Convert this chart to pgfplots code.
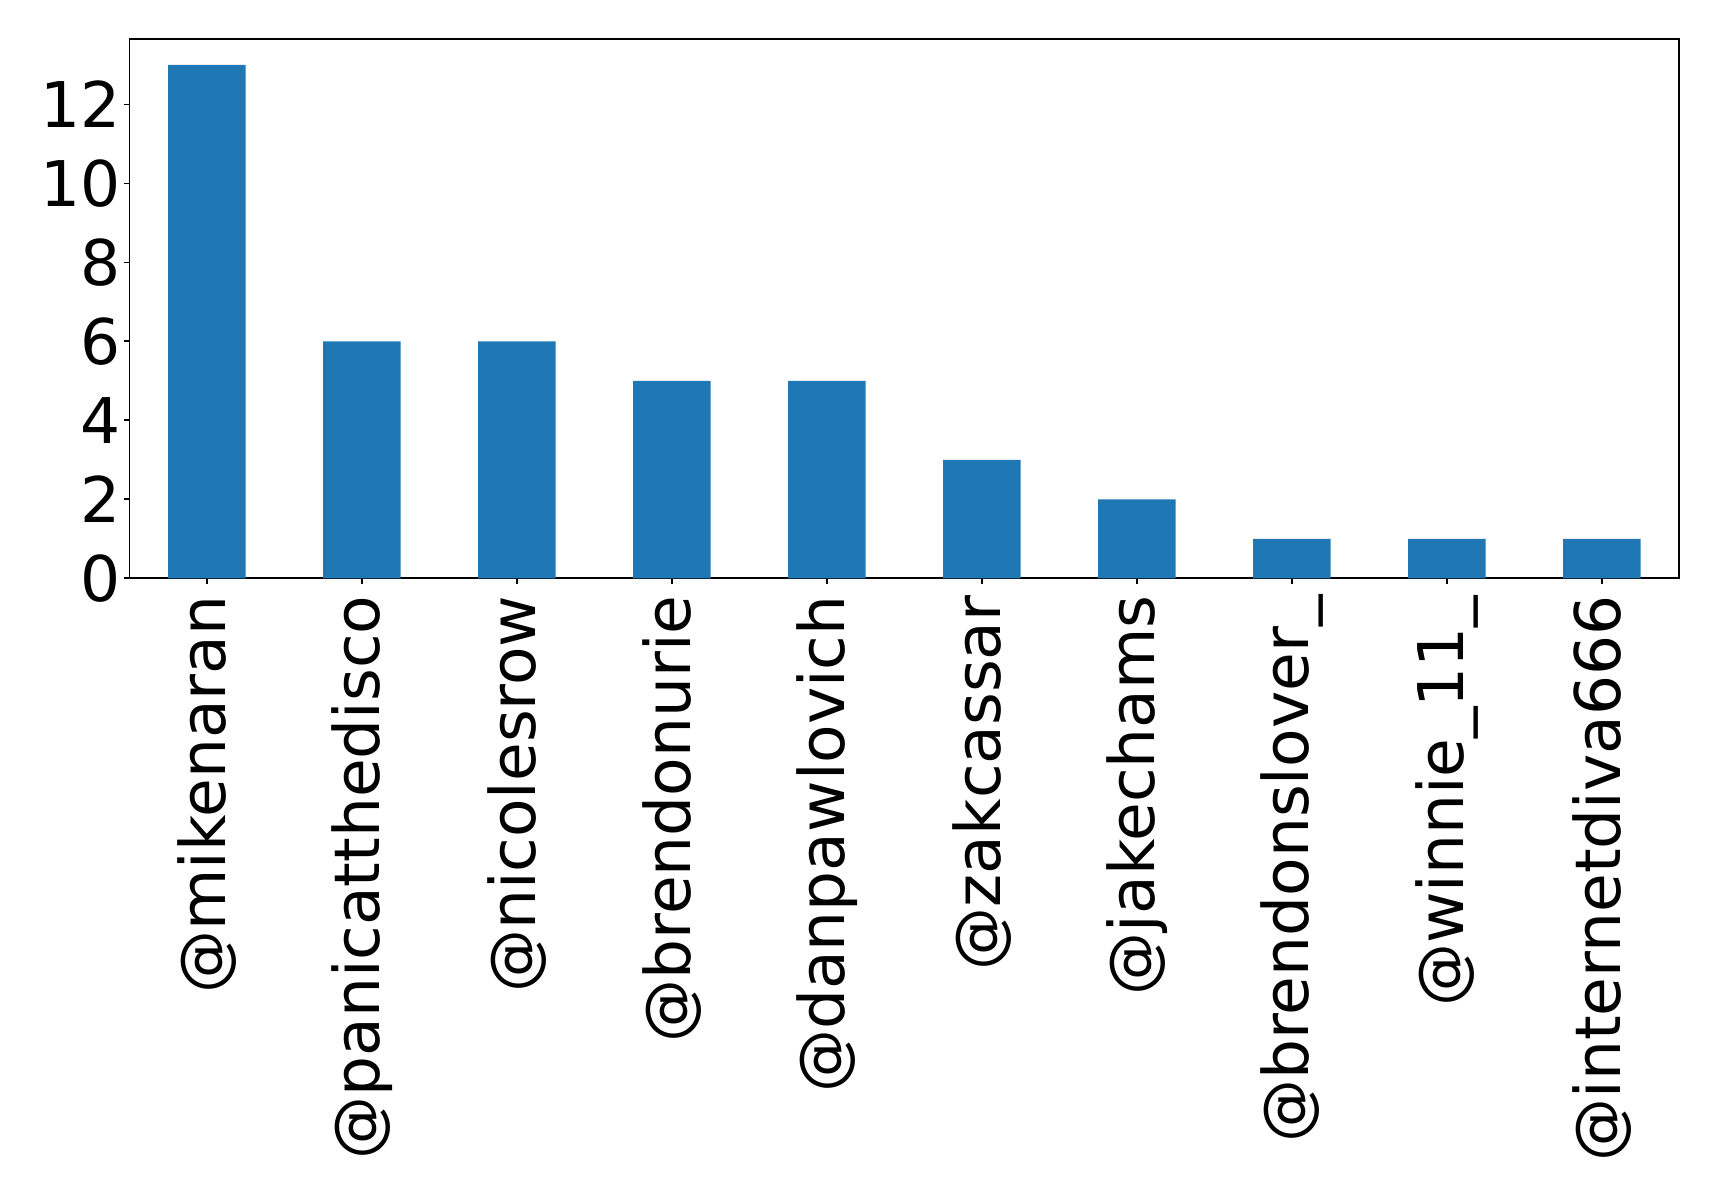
\documentclass[border=0pt]{standalone}
\usepackage{fontspec}
\setmainfont{DejaVu Sans}
\usepackage{pgfplots}
\pgfplotsset{compat=1.18}
\definecolor{mplblue}{HTML}{1F77B4}
\begin{document}
\begin{tikzpicture}
\begin{axis}[
  scale only axis,
  width=774.9pt, height=269.5pt,
  xmin=-0.5, xmax=9.5, ymin=0, ymax=13.65,
  xtick={0,...,9},
  xticklabels={@mikenaran,@panicatthedisco,@nicolesrow,@brendonurie,@danpawlovich,@zakcassar,@jakechams,@brendonslover\_,@winnie\_11\_,@internetdiva666},
  ytick={0,2,4,6,8,10,12},
  tick align=outside, tick pos=left,
  major tick length=2.65pt,
  axis line style={line width=0.9pt},
  every tick/.style={line width=0.9pt, black},
  /pgf/number format/assume math mode=true,
  ticklabel style={font=\fontsize{31.5}{38}\selectfont, inner sep=0pt},
  yticklabel style={xshift=-1.5pt},
  xticklabel style={yshift=-5.8pt, rotate=90, anchor=east},
]
\addplot[ybar, bar width=0.5, fill=mplblue, draw=none] coordinates {
  (0,13) (1,6) (2,6) (3,5) (4,5) (5,3) (6,2) (7,1) (8,1) (9,1)
};
\end{axis}
\pgfresetboundingbox
\path ([shift={(-64.75pt,-305.35pt)}]current axis.south west) rectangle ([shift={(19.85pt,19.65pt)}]current axis.north east);
\end{tikzpicture}
\end{document}
